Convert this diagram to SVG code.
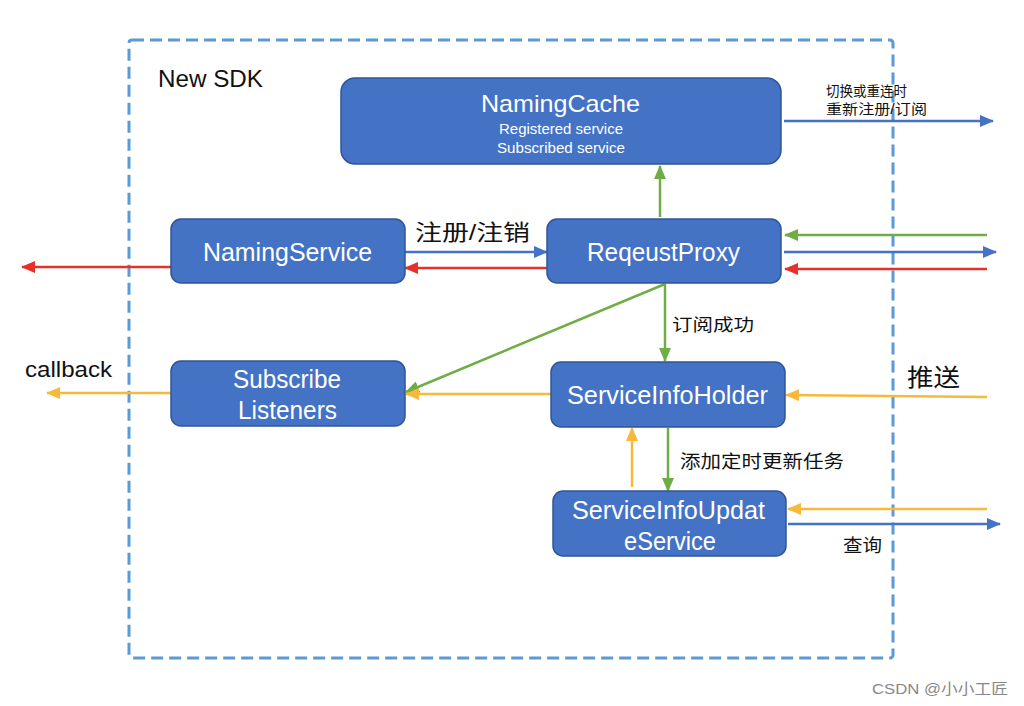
<svg xmlns="http://www.w3.org/2000/svg" width="1024" height="706" viewBox="0 0 1024 706">
<style>
.node{fill:#4472c4;stroke:#2f5597;stroke-width:1.5}
.nt{fill:#fff;font-family:"Liberation Sans",Arial,sans-serif}
.lb{fill:#111;font-family:"Liberation Sans","Noto Sans CJK SC",sans-serif}
.c{fill:none;stroke-width:2.5}
.b{stroke:#4472c4}.r{stroke:#e8302a}.g{stroke:#70ad47}.y{stroke:#f6b93b}
</style>
<defs>
<marker id="ab" markerUnits="userSpaceOnUse" markerWidth="14" markerHeight="12" refX="13" refY="6" orient="auto"><path d="M0,0L14,6L0,12Z" fill="#4472c4"/></marker>
<marker id="ar" markerUnits="userSpaceOnUse" markerWidth="14" markerHeight="12" refX="13" refY="6" orient="auto"><path d="M0,0L14,6L0,12Z" fill="#e8302a"/></marker>
<marker id="ag" markerUnits="userSpaceOnUse" markerWidth="14" markerHeight="12" refX="13" refY="6" orient="auto"><path d="M0,0L14,6L0,12Z" fill="#70ad47"/></marker>
<marker id="ay" markerUnits="userSpaceOnUse" markerWidth="14" markerHeight="12" refX="13" refY="6" orient="auto"><path d="M0,0L14,6L0,12Z" fill="#f6b93b"/></marker>
</defs>
<rect width="1024" height="706" fill="#fff"/>
<g id="sdk-boundary">
<rect x="129" y="40" width="764" height="618" rx="3" fill="none" stroke="#5b9bd5" stroke-width="3" stroke-dasharray="12,6"/>
<text x="158" y="87" class="lb" font-size="23" textLength="105" lengthAdjust="spacingAndGlyphs">New SDK</text>
</g>
<g id="connectors">
<line class="c b" x1="784" y1="121" x2="993" y2="121" marker-end="url(#ab)"/>
<line class="c g" x1="660" y1="217" x2="660" y2="166" marker-end="url(#ag)"/>
<line class="c b" x1="405" y1="252" x2="547" y2="252" marker-end="url(#ab)"/>
<line class="c r" x1="547" y1="268" x2="405" y2="268" marker-end="url(#ar)"/>
<line class="c r" x1="171" y1="267" x2="22" y2="267" marker-end="url(#ar)"/>
<line class="c g" x1="987" y1="235" x2="785" y2="235" marker-end="url(#ag)"/>
<line class="c b" x1="784" y1="252" x2="996" y2="252" marker-end="url(#ab)"/>
<line class="c r" x1="987" y1="269" x2="785" y2="269" marker-end="url(#ar)"/>
<line class="c g" x1="665" y1="284" x2="665" y2="361" marker-end="url(#ag)"/>
<line class="c g" x1="665" y1="284" x2="406" y2="392" marker-end="url(#ag)"/>
<line class="c y" x1="551" y1="394" x2="406" y2="394" marker-end="url(#ay)"/>
<line class="c y" x1="171" y1="393" x2="47" y2="393" marker-end="url(#ay)"/>
<line class="c y" x1="987" y1="397" x2="786" y2="395" marker-end="url(#ay)"/>
<line class="c y" x1="632" y1="487" x2="632" y2="428" marker-end="url(#ay)"/>
<line class="c g" x1="668" y1="428" x2="668" y2="491" marker-end="url(#ag)"/>
<line class="c y" x1="987" y1="509" x2="788" y2="509" marker-end="url(#ay)"/>
<line class="c b" x1="788" y1="524" x2="1000" y2="524" marker-end="url(#ab)"/>
<text x="826" y="96" class="lb" font-size="14" textLength="81" lengthAdjust="spacingAndGlyphs">切换或重连时</text>
<text x="826" y="114" class="lb" font-size="14" textLength="101" lengthAdjust="spacingAndGlyphs">重新注册/订阅</text>
<text x="415" y="240" class="lb" font-size="22" textLength="115" lengthAdjust="spacingAndGlyphs">注册/注销</text>
<text x="672" y="331" class="lb" font-size="17" textLength="82" lengthAdjust="spacingAndGlyphs">订阅成功</text>
<text x="25" y="377" class="lb" font-size="22" textLength="87" lengthAdjust="spacingAndGlyphs">callback</text>
<text x="907" y="386" class="lb" font-size="24" textLength="53" lengthAdjust="spacingAndGlyphs">推送</text>
<text x="680" y="468" class="lb" font-size="18" textLength="164" lengthAdjust="spacingAndGlyphs">添加定时更新任务</text>
<text x="843" y="552" class="lb" font-size="18" textLength="39" lengthAdjust="spacingAndGlyphs">查询</text>
</g>
<g id="NamingCache">
<rect class="node" x="341" y="78" width="440" height="86" rx="14"/>
<text x="481" y="112" class="nt" font-size="24" textLength="159" lengthAdjust="spacingAndGlyphs">NamingCache</text>
<text x="499" y="134" class="nt" font-size="15" textLength="124" lengthAdjust="spacingAndGlyphs">Registered service</text>
<text x="497" y="153" class="nt" font-size="15" textLength="128" lengthAdjust="spacingAndGlyphs">Subscribed service</text>
</g>
<g id="NamingService">
<rect class="node" x="171" y="219" width="234" height="64" rx="10"/>
<text x="203" y="261" class="nt" font-size="25" textLength="169" lengthAdjust="spacingAndGlyphs">NamingService</text>
</g>
<g id="ReqeustProxy">
<rect class="node" x="547" y="219" width="234" height="64" rx="10"/>
<text x="587" y="261" class="nt" font-size="25" textLength="153" lengthAdjust="spacingAndGlyphs">ReqeustProxy</text>
</g>
<g id="SubscribeListeners">
<rect class="node" x="171" y="361" width="234" height="65" rx="10"/>
<text x="233" y="388" class="nt" font-size="25" textLength="108" lengthAdjust="spacingAndGlyphs">Subscribe</text>
<text x="238" y="419" class="nt" font-size="25" textLength="99" lengthAdjust="spacingAndGlyphs">Listeners</text>
</g>
<g id="ServiceInfoHolder">
<rect class="node" x="551" y="362" width="234" height="65" rx="10"/>
<text x="567" y="404" class="nt" font-size="25" textLength="201" lengthAdjust="spacingAndGlyphs">ServiceInfoHolder</text>
</g>
<g id="ServiceInfoUpdateService">
<rect class="node" x="553" y="491" width="233" height="65" rx="10"/>
<text x="572" y="519" class="nt" font-size="25" textLength="193" lengthAdjust="spacingAndGlyphs">ServiceInfoUpdat</text>
<text x="624" y="550" class="nt" font-size="25" textLength="92" lengthAdjust="spacingAndGlyphs">eService</text>
</g>
<text x="872" y="694" font-family="Liberation Sans,'Noto Sans CJK SC',sans-serif" font-size="15" fill="#888" textLength="136" lengthAdjust="spacingAndGlyphs">CSDN @小小工匠</text>
</svg>
